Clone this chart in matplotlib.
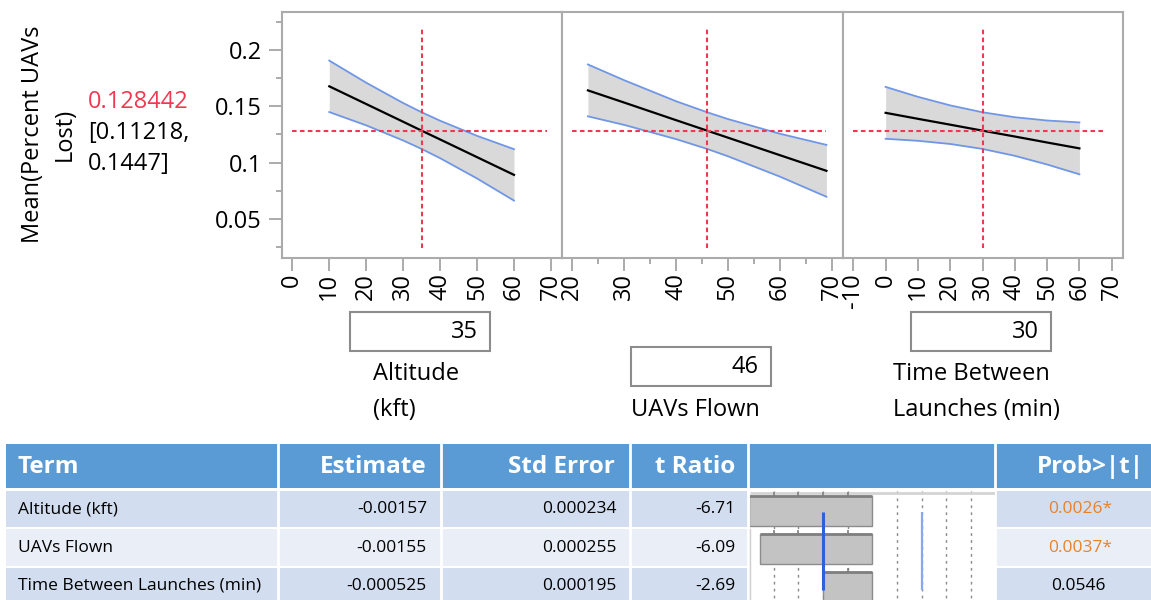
import matplotlib
matplotlib.use("Agg")
import matplotlib.pyplot as plt
from matplotlib.patches import Rectangle
from matplotlib.ticker import MultipleLocator, FuncFormatter

plt.rcParams['font.family'] = ['Open Sans', 'DejaVu Sans']
plt.rcParams['axes.unicode_minus'] = False

W, H = 1151, 600

# ---- prediction profiler ----
y_title = "Mean(Percent UAVs\nLost)"
pred_text = ["0.128442", "[0.11218,", "0.1447]"]
pred_mean = 0.128442

factor_labels = ["Altitude\n(kft)", "UAVs Flown", "Time Between\nLaunches (min)"]
factor_settings = [35, 46, 30]

alt_x = [10, 20, 30, 35, 40, 50, 60]
alt_mean = [0.1677, 0.1520, 0.1363, 0.1284, 0.1206, 0.1049, 0.0892]
alt_lo = [0.1449, 0.1331, 0.1197, 0.1122, 0.1040, 0.0860, 0.0664]
alt_hi = [0.1905, 0.1709, 0.1529, 0.1447, 0.1372, 0.1238, 0.1120]

uav_x = [23, 30, 40, 46, 50, 60, 69]
uav_mean = [0.1641, 0.1533, 0.1377, 0.1284, 0.1222, 0.1067, 0.0928]
uav_lo = [0.1411, 0.1335, 0.1209, 0.1122, 0.1057, 0.0877, 0.0698]
uav_hi = [0.1871, 0.1731, 0.1545, 0.1447, 0.1387, 0.1257, 0.1158]

tbl_x = [0, 10, 20, 30, 40, 50, 60]
tbl_mean = [0.1442, 0.1389, 0.1337, 0.1284, 0.1232, 0.1179, 0.1127]
tbl_lo = [0.1212, 0.1194, 0.1166, 0.1122, 0.1061, 0.0984, 0.0897]
tbl_hi = [0.1672, 0.1584, 0.1508, 0.1447, 0.1403, 0.1374, 0.1357]

# ---- parameter estimates ----
col_heads = ["Term", "Estimate", "Std Error", "t Ratio", "", "Prob>|t|"]
terms = ["Altitude (kft)", "UAVs Flown", "Time Between Launches (min)"]
estimates = ["-0.00157", "-0.00155", "-0.000525"]
std_errors = ["0.000234", "0.000255", "0.000195"]
t_ratios = [-6.71, -6.09, -2.69]
p_values = ["0.0026*", "0.0037*", "0.0546"]
t_ref = [-5.37, -4.03, -2.69, -1.34, 1.34, 2.69, 4.03, 5.37]
t_crit = 2.69

RED = '#EE3A50'
GREY = '#ABABAB'
FS = 17


def rect(x0, y0, x1, y1):
    return [x0 / W, 1 - y1 / H, (x1 - x0) / W, (y1 - y0) / H]


fig = plt.figure(figsize=(W / 100, H / 100), dpi=100)

ov = fig.add_axes([0, 0, 1, 1])
ov.set_xlim(0, W)
ov.set_ylim(H, 0)
ov.axis('off')

# left labels
ov.text(49, 134, y_title, rotation=90, ha='center', va='center',
        multialignment='center', fontsize=FS, linespacing=1.4)
ov.text(88, 102, pred_text[0], color=RED, fontsize=FS, va='center')
ov.text(88, 133, pred_text[1], fontsize=FS, va='center')
ov.text(88, 164, pred_text[2], fontsize=FS, va='center')

panels = [
    dict(x=alt_x, m=alt_mean, lo=alt_lo, hi=alt_hi, xlim=(-2.8, 73), ticks=range(0, 71, 10),
         minor=None, hl=(0, 69), px=(282, 562)),
    dict(x=uav_x, m=uav_mean, lo=uav_lo, hi=uav_hi, xlim=(18.0, 72.2), ticks=range(20, 71, 10),
         minor=5, hl=(20, 69), px=(562, 843)),
    dict(x=tbl_x, m=tbl_mean, lo=tbl_lo, hi=tbl_hi, xlim=(-13.2, 73.5), ticks=range(-10, 71, 10),
         minor=None, hl=(-10, 68), px=(843, 1123)),
]

for i, p in enumerate(panels):
    ax = fig.add_axes(rect(p['px'][0], 12, p['px'][1], 258))
    ax.fill_between(p['x'], p['lo'], p['hi'], color='#D9D9D9', lw=0, zorder=1)
    ax.plot(p['x'], p['lo'], color='#7096E6', lw=1.3, zorder=2)
    ax.plot(p['x'], p['hi'], color='#7096E6', lw=1.3, zorder=2)
    ax.plot(p['x'], p['m'], color='black', lw=1.6, zorder=3)
    ax.hlines(pred_mean, p['hl'][0], p['hl'][1], color=RED, lw=1.5,
              linestyles=(0, (2.2, 1.6)), zorder=4)
    ax.vlines(factor_settings[i], 0.0246, 0.2197, color=RED, lw=1.5,
              linestyles=(0, (2.2, 1.6)), zorder=4)
    ax.set_xlim(*p['xlim'])
    ax.set_ylim(0.0155, 0.2336)
    ax.set_xticks(list(p['ticks']))
    if p['minor']:
        ax.xaxis.set_minor_locator(MultipleLocator(p['minor']))
    for s in ax.spines.values():
        s.set_color(GREY)
        s.set_linewidth(1.5)
    ax.tick_params(axis='x', which='major', length=9, width=1.4, color=GREY,
                   labelsize=FS, labelrotation=90, pad=2)
    ax.tick_params(axis='x', which='minor', length=4, width=1.4, color=GREY)
    if i == 0:
        ax.set_yticks([0.05, 0.1, 0.15, 0.2])
        ax.yaxis.set_minor_locator(MultipleLocator(0.025))
        ax.yaxis.set_major_formatter(FuncFormatter(lambda v, _: f"{v:g}"))
        ax.tick_params(axis='y', which='major', length=9.5, width=1.4, color=GREY,
                       labelsize=FS, pad=5)
        ax.tick_params(axis='y', which='minor', length=4.5, width=1.4, color=GREY)
    else:
        ax.set_yticks([])
        ax.yaxis.set_minor_locator(plt.NullLocator())

# factor setting boxes and labels
box_px = [(350, 312), (631, 347), (911, 312)]
lab_px = [(373, 374), (631, 374), (893, 374)]
for i in range(3):
    bx0, by0 = box_px[i]
    ov.add_patch(Rectangle((bx0, by0), 140, 39, fill=False, ec='#8C8C8C', lw=1.5))
    ov.text(bx0 + 128, by0 + 20, str(factor_settings[i]), ha='right', va='center', fontsize=FS)
    lx, ly = lab_px[i]
    lines = factor_labels[i].split('\n')
    if len(lines) == 1:
        ov.text(lx, ly + 36, lines[0], ha='left', va='center', fontsize=FS)
    else:
        ov.text(lx, ly, lines[0], ha='left', va='center', fontsize=FS)
        ov.text(lx, ly + 36, lines[1], ha='left', va='center', fontsize=FS)

# ---- table ----
col_edges = [6, 278, 441, 630, 748, 995, 1151]
head_x = [18, 427, 615, 735, None, 1144]
ov.add_patch(Rectangle((6, 444), W - 6, 44, color='#5B9BD5', lw=0))
for j, txt in enumerate(col_heads):
    if not txt:
        continue
    ov.text(head_x[j], 467, txt, ha='left' if j == 0 else 'right', va='center',
            color='white', fontsize=17.5, fontweight='bold')

row_top = [491, 529, 568]
row_bot = [527, 566, 603]
row_col = ['#D2DEEF', '#E9EEF7', '#D2DEEF']
TFS = 12.5
for r in range(3):
    ov.add_patch(Rectangle((6, row_top[r]), W - 6, row_bot[r] - row_top[r],
                           color=row_col[r], lw=0))
    yc = (row_top[r] + row_bot[r]) / 2
    ov.text(18, yc, terms[r], ha='left', va='center', fontsize=TFS)
    ov.text(427, yc, estimates[r], ha='right', va='center', fontsize=TFS)
    ov.text(617, yc, std_errors[r], ha='right', va='center', fontsize=TFS)
    ov.text(735, yc, f"{t_ratios[r]:.2f}", ha='right', va='center', fontsize=TFS)
    star = p_values[r].endswith('*')
    ov.text(1112 if star else 1106, yc, p_values[r], ha='right', va='center', fontsize=TFS,
            color='#E8822A' if star else 'black')
ov.add_patch(Rectangle((750, 491), 245, 112, color='white', lw=0))
for xe in col_edges[1:-1]:
    ov.plot([xe, xe], [444, 600], color='white', lw=2)
ov.plot([750, 750], [529, 600], color='#CFCFCF', lw=1)

# t ratio bar chart
bx = fig.add_axes(rect(750, 491, 995, 600))
y_top, y_bot = -0.526, 2.342
bar_h = 0.79
rows = range(len(t_ratios))
bx.vlines(t_ref, y_top, y_bot, color='#8A8A8A', lw=1, linestyles=(0, (2, 3)), zorder=1)
bx.hlines(-0.47, -6.65, 6.67, color='#D4D4D4', lw=2, zorder=1)
bx.barh(list(rows), t_ratios, height=bar_h, color='#C3C3C3', ec='#8C8C8C', lw=1, zorder=2)
for r in rows:
    t = t_ratios[r]
    yt = r - bar_h / 2
    bx.hlines(yt, t, 0, color='#7F7F7F', lw=2, zorder=3)
    ticks_in = [v for v in t_ref if t <= v <= 0]
    bx.vlines(ticks_in, yt - 0.1, yt, color='#7F7F7F', lw=1.2, zorder=3)
bx.vlines(-t_crit, 0.03, 2.08, color='#2F5FDB', lw=2.2, zorder=4)
bx.vlines(t_crit, 0.03, 2.08, color='#86A8F2', lw=1.6, zorder=4)
bx.set_xlim(-6.65, 6.67)
bx.set_ylim(y_bot, y_top)
bx.axis('off')

plt.savefig("out.png", dpi=100)
